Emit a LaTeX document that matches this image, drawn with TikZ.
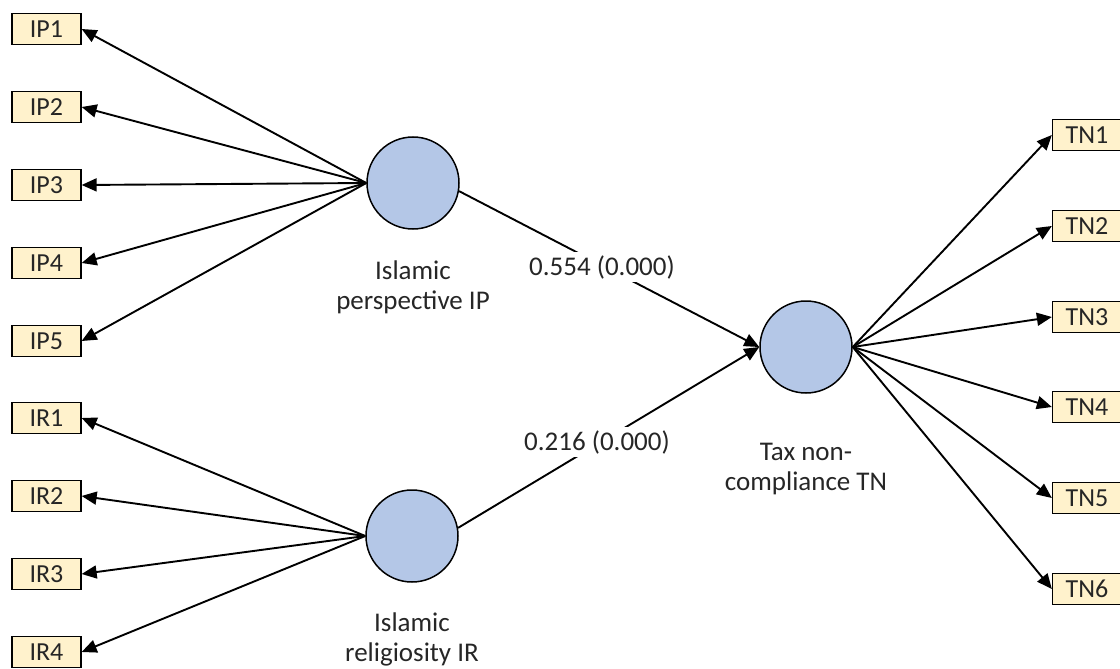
\documentclass[tikz,border=0pt]{standalone}
\usepackage{fontspec}
\setmainfont{Carlito}
\usetikzlibrary{arrows.meta}
\definecolor{boxfill}{HTML}{FFF2CC}
\definecolor{latfill}{HTML}{B4C7E7}
\definecolor{txt}{HTML}{262626}
\begin{document}
\begin{tikzpicture}[x=1pt,y=-1pt,
  ind/.style={draw=black, line width=1.3pt, fill=boxfill, minimum width=69pt, minimum height=31pt, inner sep=0pt, font=\fontsize{26}{28}\selectfont, text=txt},
  lat/.style={circle, draw=black, line width=1.5pt, fill=latfill, minimum size=92pt, inner sep=0pt},
  lbl/.style={align=center, inner sep=0pt, font=\fontsize{27}{30}\selectfont, text=txt},
  coef/.style={fill=white, inner sep=3pt, font=\fontsize{27}{28}\selectfont, text=txt},
  link/.style={line width=1.9pt, -{Triangle[length=15pt,width=13pt]}}]
\useasboundingbox (0,0) rectangle (1120,669);
% latent variables
\node[lat] (IP) at (413,183) {};
\node[lat] (IR) at (412,536) {};
\node[lat] (TN) at (806,347) {};
\node[lbl] (IPl) at (413,287) {Islamic\\perspective IP};
\node[lbl] (IRl) at (412,639) {Islamic\\religiosity IR};
\node[lbl] (TNl) at (806,469) {Tax non-\\compliance TN};
% indicators
\node[ind] (IP1) at (46.5,29) {IP1};
\node[ind] (IP2) at (46.5,107) {IP2};
\node[ind] (IP3) at (46.5,185) {IP3};
\node[ind] (IP4) at (46.5,263) {IP4};
\node[ind] (IP5) at (46.5,341) {IP5};
\node[ind] (IR1) at (46.5,418) {IR1};
\node[ind] (IR2) at (46.5,496) {IR2};
\node[ind] (IR3) at (46.5,574) {IR3};
\node[ind] (IR4) at (46.5,652) {IR4};
\node[ind] (TN1) at (1087,135) {TN1};
\node[ind] (TN2) at (1087,226) {TN2};
\node[ind] (TN3) at (1087,317) {TN3};
\node[ind] (TN4) at (1087,407) {TN4};
\node[ind] (TN5) at (1087,498) {TN5};
\node[ind] (TN6) at (1087,589) {TN6};
% outer loadings
\foreach \i in {1,...,5} \draw[link] (IP.west) -- (IP\i.east);
\foreach \i in {1,...,4} \draw[link] (IR.west) -- (IR\i.east);
\foreach \i in {1,...,6} \draw[link] (TN.east) -- (TN\i.west);
% structural paths
\draw[link] (IP.-10) -- (TN.west);
\draw[link] (IR.10) -- (TN.west);
\node[coef] (c1) at (602,267) {0.554 (0.000)};
\node[coef] (c2) at (597,442) {0.216 (0.000)};
\end{tikzpicture}
\end{document}
